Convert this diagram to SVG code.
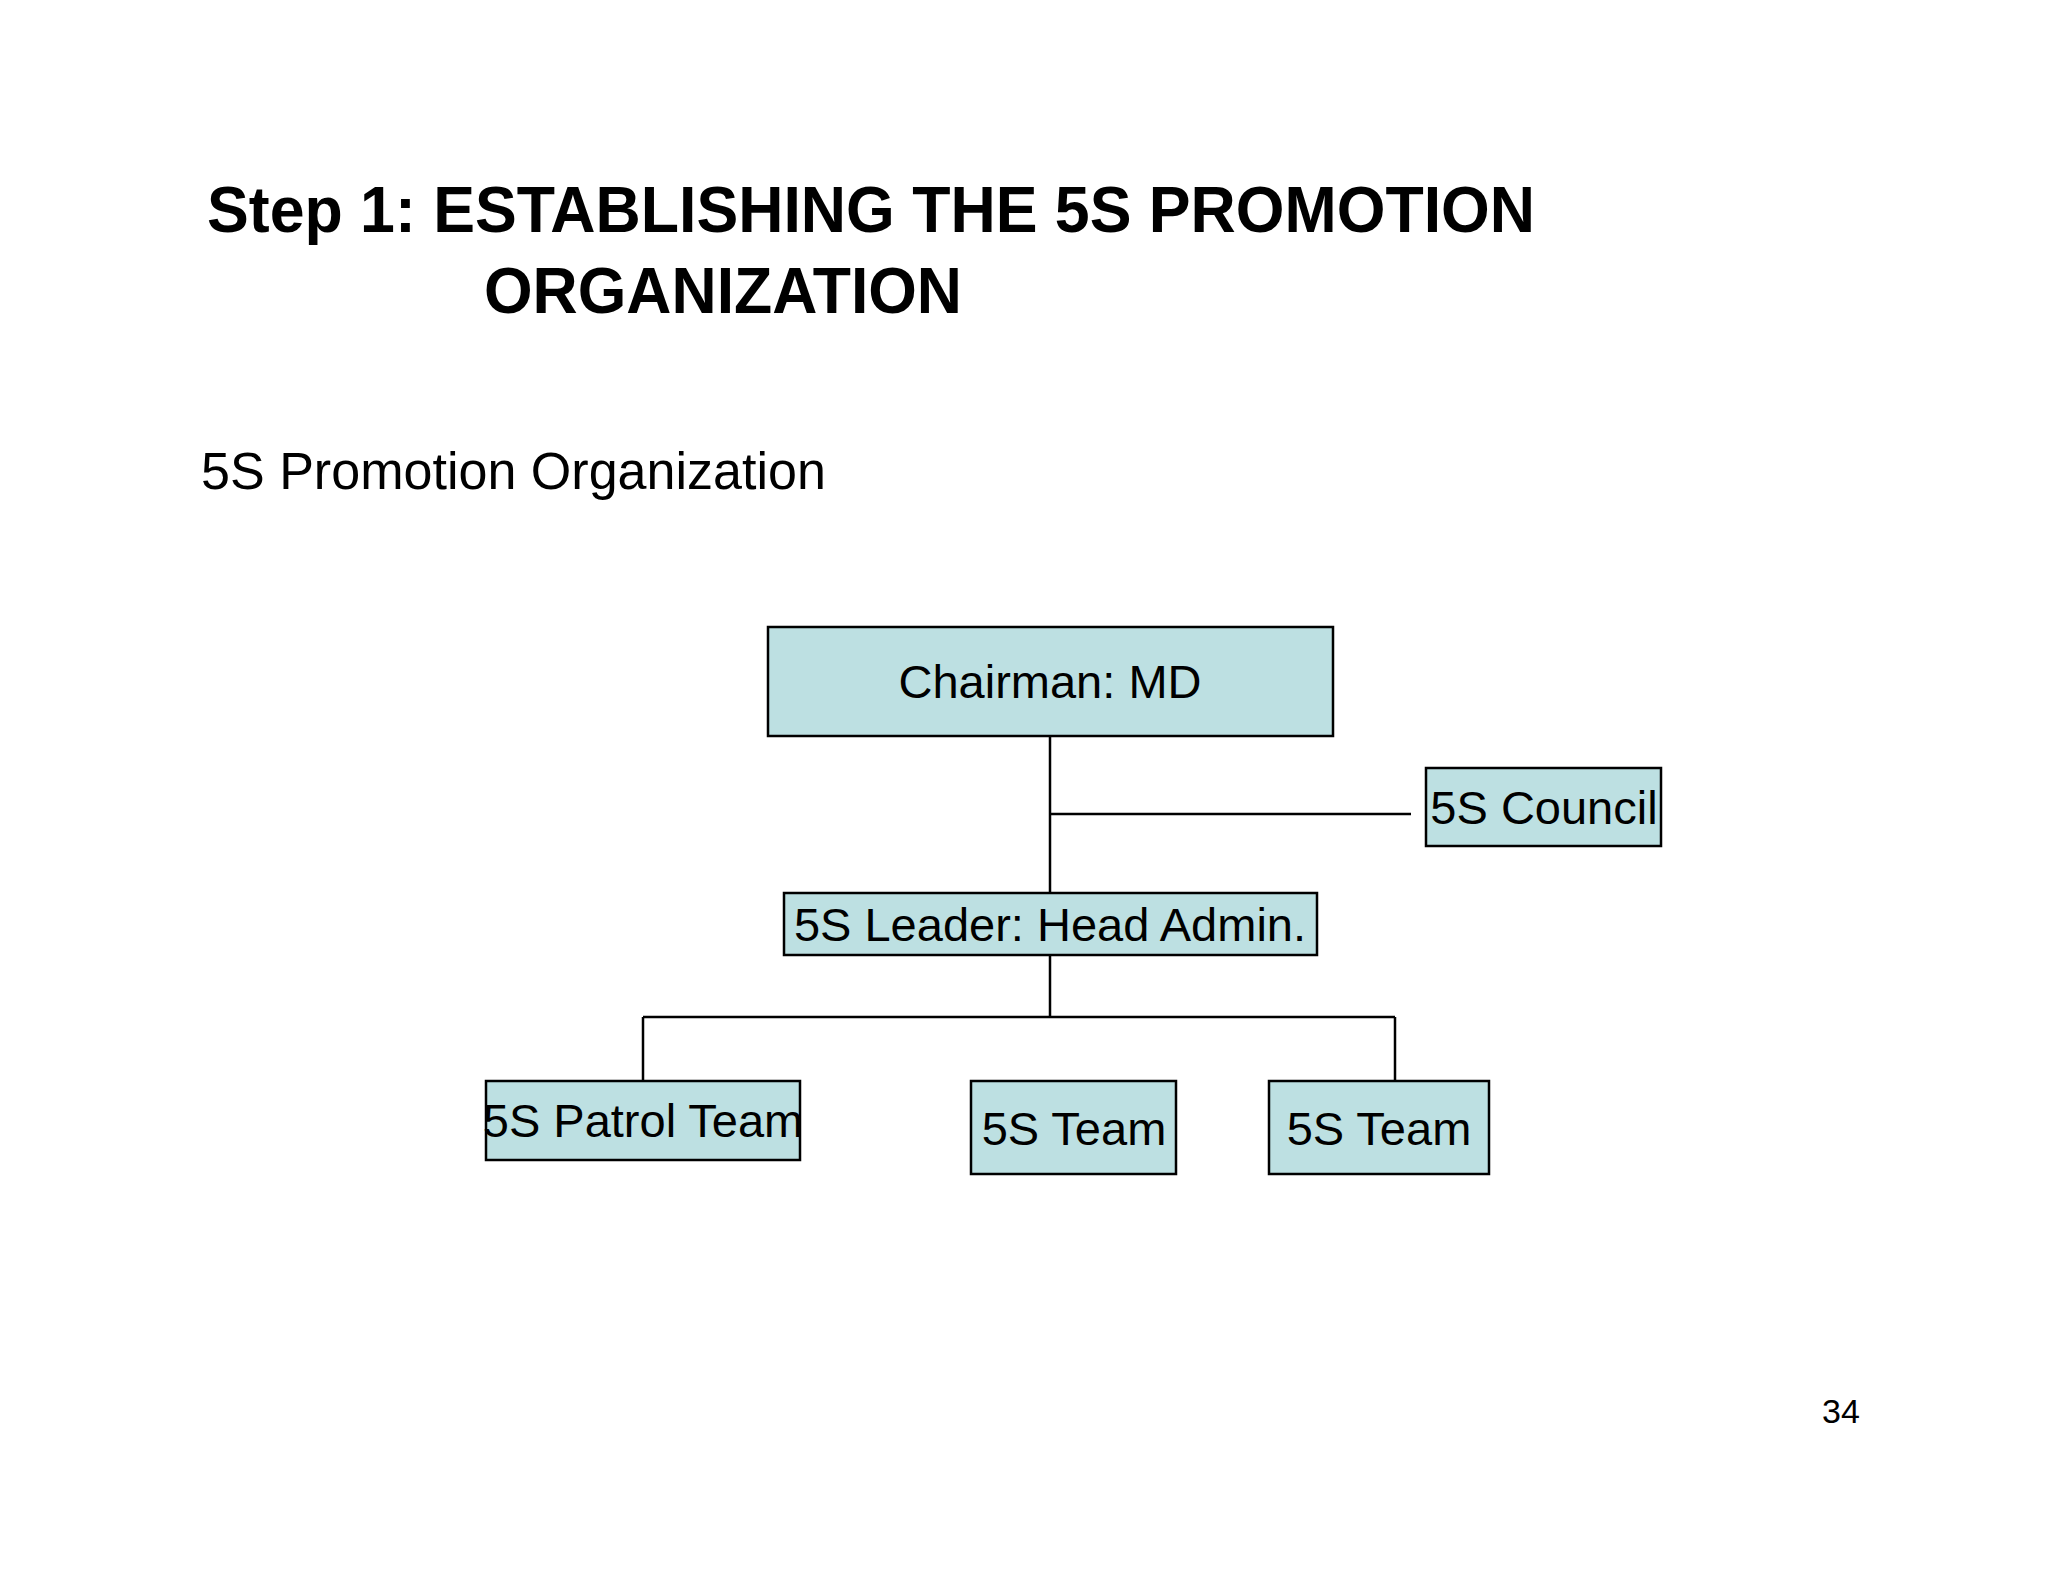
<svg xmlns="http://www.w3.org/2000/svg" width="2048" height="1582" viewBox="0 0 2048 1582">
<style>
.box{fill:#bde0e2;stroke:#000;stroke-width:2.5}
.t{font-family:"Liberation Sans",Arial,sans-serif;fill:#000}
.n{font-size:47px;text-anchor:middle}
#connectors line{stroke:#000;stroke-width:2.5}
</style>
<rect width="2048" height="1582" fill="#fff"/>
<text class="t" x="207" y="232" font-size="64" font-weight="bold" textLength="1328" lengthAdjust="spacingAndGlyphs">Step 1: ESTABLISHING THE 5S PROMOTION</text>
<text class="t" x="484" y="313" font-size="64" font-weight="bold" textLength="478" lengthAdjust="spacingAndGlyphs">ORGANIZATION</text>
<text class="t" x="201" y="489" font-size="51" textLength="625" lengthAdjust="spacingAndGlyphs">5S Promotion Organization</text>
<g id="connectors">
<line x1="1050" y1="736" x2="1050" y2="893"/>
<line x1="1050" y1="814" x2="1411" y2="814"/>
<line x1="1050" y1="955" x2="1050" y2="1017"/>
<line x1="643" y1="1017" x2="1395" y2="1017"/>
<line x1="643" y1="1017" x2="643" y2="1081"/>
<line x1="1395" y1="1017" x2="1395" y2="1081"/>
</g>
<g id="chairman"><rect class="box" x="768" y="627" width="565" height="109"/><text class="t n" x="1050" y="698">Chairman: MD</text></g>
<g id="council"><rect class="box" x="1426" y="768" width="235" height="78"/><text class="t n" x="1544" y="824">5S Council</text></g>
<g id="leader"><rect class="box" x="784" y="893" width="533" height="62"/><text class="t n" x="1050" y="941">5S Leader: Head Admin.</text></g>
<g id="patrol"><rect class="box" x="486" y="1081" width="314" height="79"/><text class="t n" x="643" y="1137">5S Patrol Team</text></g>
<g id="team1"><rect class="box" x="971" y="1081" width="205" height="93"/><text class="t n" x="1074" y="1145">5S Team</text></g>
<g id="team2"><rect class="box" x="1269" y="1081" width="220" height="93"/><text class="t n" x="1379" y="1145">5S Team</text></g>
<text class="t" x="1841" y="1423" font-size="34" text-anchor="middle">34</text>
</svg>
